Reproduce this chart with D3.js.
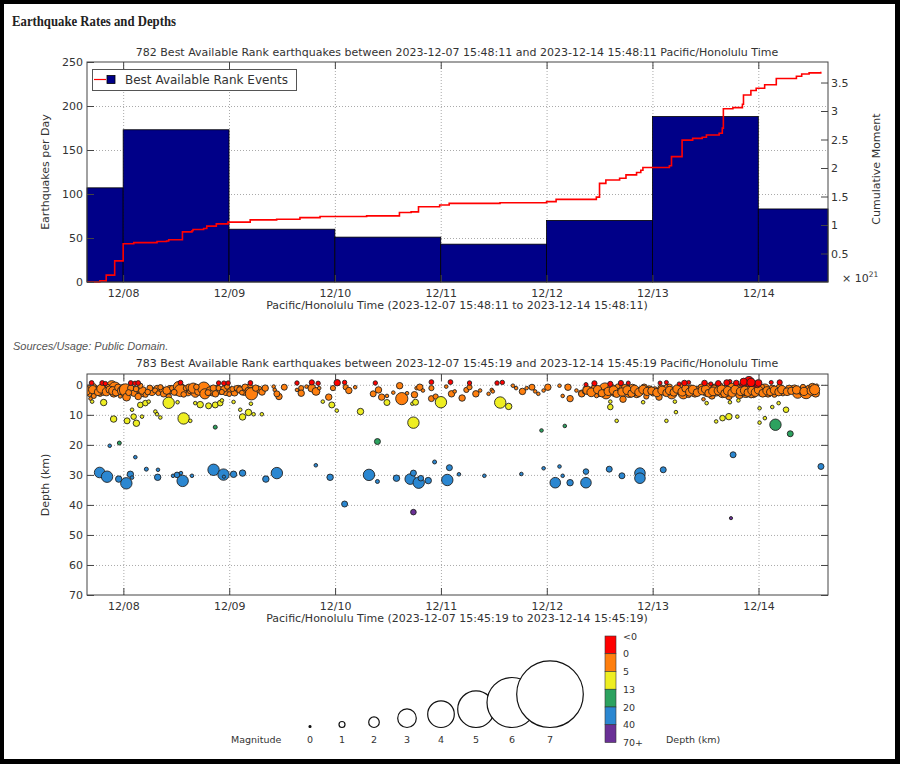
<!DOCTYPE html>
<html>
<head>
<meta charset="utf-8">
<script src="https://cdn.jsdelivr.net/npm/d3@7"></script>
<style>
  body { margin: 0; background: #000; }
  text { font-family: "DejaVu Sans", sans-serif; fill: #333; }
</style>
</head>
<body>
<script>
// ---- data ----

// daily rate bins (top panel)
var rateBinEdges = ["2023-12-07 15:48:11", "2023-12-08 00:00:00", "2023-12-09 00:00:00",
  "2023-12-10 00:00:00", "2023-12-11 00:00:00", "2023-12-12 00:00:00",
  "2023-12-13 00:00:00", "2023-12-14 00:00:00", "2023-12-14 15:48:11"];
var ratePerDay = [107, 173, 60, 51, 43, 70, 188, 83];

// cumulative moment steps: December day (fractional), value x 10^21
var momentDay = [7.659, 7.78, 7.84, 7.92, 8.00, 8.10, 8.32, 8.41, 8.43, 8.56, 8.65, 8.66, 8.76, 8.79,
  8.88, 8.99, 9.20, 9.45, 9.67, 9.86, 10.30, 10.61, 10.72, 10.79, 10.99, 11.08, 11.56, 12.00, 12.09,
  12.47, 12.50, 12.56, 12.69, 12.75, 12.85, 12.89, 12.91, 13.16, 13.18, 13.28, 13.38, 13.47, 13.51,
  13.63, 13.66, 13.67, 13.76, 13.85, 13.86, 13.93, 13.98, 14.06, 14.17, 14.36, 14.41, 14.48, 14.59];
var momentCum = [0, 0.02, 0.12, 0.37, 0.67, 0.69, 0.71, 0.72, 0.74, 0.88, 0.90, 0.92, 0.94, 0.98,
  1.02, 1.05, 1.09, 1.10, 1.13, 1.15, 1.16, 1.22, 1.23, 1.32, 1.35, 1.38, 1.39, 1.41, 1.45,
  1.49, 1.73, 1.79, 1.82, 1.88, 1.92, 1.96, 2.01, 2.04, 2.20, 2.49, 2.52, 2.54, 2.58,
  2.61, 2.70, 3.04, 3.06, 3.12, 3.28, 3.36, 3.40, 3.46, 3.57, 3.61, 3.65, 3.67, 3.69];

// events (bottom panel): [December day, depth km, magnitude]
var quakes = [
  // band 12/07 - 12/09
  [7.64,1.4,1.4],[7.67,1.1,1.1],[7.70,1.9,1.1],[7.74,1.1,0.8],[7.77,1.7,1.4],[7.80,0.8,1.1],[7.83,1.9,1.4],
  [7.86,1.1,1.1],[7.89,0.3,1.9],[7.92,1.1,2.2],[7.91,2.8,1.4],[7.96,1.9,1.1],[7.99,3.0,0.8],[7.72,3.7,0.8],
  [7.78,3.0,0.8],[7.69,4.6,0.4],[7.66,2.5,0.8],[7.75,2.2,1.0],[7.81,2.6,0.9],[7.88,2.0,1.2],[7.94,1.5,1.0],
  [7.85,0.5,0.6],[7.72,0.4,0.7],[7.68,3.2,0.6],[7.97,3.8,0.5],
  [7.65,2.0,1.6],[7.71,1.6,1.5],[7.76,2.4,1.3],[7.79,1.3,1.6],[7.84,2.3,1.5],[7.87,1.6,1.3],[7.90,2.0,1.5],
  [7.93,2.5,1.3],[7.95,0.9,1.2],[7.98,2.0,1.4],[8.00,1.2,1.5],[8.04,2.1,1.4],[8.09,2.0,1.6],[8.13,2.4,1.3],
  [8.15,1.5,1.2],[8.19,2.8,1.3],[8.27,2.2,1.5],[8.32,1.4,1.3],[8.37,1.8,1.2],[8.44,1.6,1.5],[8.50,2.2,1.4],
  [8.55,1.2,1.6],[8.61,2.3,1.5],[8.64,1.8,1.4],[8.68,2.7,1.6],[8.73,1.6,1.8],[8.79,1.9,1.5],[8.84,2.5,1.3],
  [8.88,1.6,1.5],[8.92,2.0,1.3],[8.97,2.2,1.5],[9.02,1.9,1.3],[9.05,2.6,1.2],[9.09,1.4,1.3],[9.14,2.3,1.3],
  [9.19,1.2,1.5],[9.23,2.0,1.4],[9.28,1.6,1.2],[9.31,2.4,1.1],
  [8.02,1.7,2.2],[8.03,4.1,1.4],[8.07,1.1,1.1],[8.10,2.8,1.1],[8.14,3.9,1.1],[8.18,1.9,1.4],[8.16,0.3,0.8],
  [8.21,3.3,0.8],[8.25,1.1,1.0],[8.30,1.9,0.8],[8.35,0.8,0.8],[8.38,3.0,1.1],[8.41,1.9,1.4],[8.43,3.9,0.8],
  [8.46,1.1,0.8],[8.52,0.6,1.9],[8.54,1.9,2.2],[8.59,1.1,0.8],[8.62,0.8,1.1],[8.66,1.1,1.9],[8.71,2.2,1.4],
  [8.76,1.1,2.2],[8.77,3.0,1.9],[8.82,1.9,1.4],[8.85,1.1,1.1],[8.87,3.0,1.1],[8.90,1.1,0.8],[8.95,1.4,1.1],
  [8.98,0.6,0.8],[9.03,1.4,0.8],[9.07,1.1,0.8],[9.10,1.7,1.1],[9.15,0.8,1.1],[9.18,1.9,1.1],[9.21,3.0,2.2],
  [9.25,1.1,1.1],[9.34,1.1,1.1],[9.42,0.6,0.4],[9.43,1.7,0.4],[9.47,3.9,1.1],[9.45,3.0,1.0],[9.52,0.8,1.0],
  [9.64,1.7,0.4],[9.68,1.1,0.8],[9.68,2.8,1.1],[9.73,0.6,0.4],[9.78,1.1,1.4],[9.82,2.2,1.4],[9.85,1.1,0.4],
  [9.94,4.1,1.1],[9.98,1.1,0.8],
  [8.05,2.6,1.0],[8.12,1.4,0.9],[8.23,2.4,0.9],[8.33,2.8,0.7],[8.48,2.5,1.0],[8.57,3.2,0.9],[8.69,0.7,0.9],
  [8.80,2.6,1.0],[8.93,2.4,0.8],[9.00,3.1,0.7],[9.12,2.6,0.7],
  // above sea level
  [7.70,-0.6,0.7],[7.80,-0.6,0.7],[7.83,-0.4,0.6],[8.07,-0.6,0.7],[8.11,-0.5,0.6],[8.14,-0.6,0.7],
  [8.54,-0.7,0.7],[8.90,-0.6,0.6],[8.95,-0.5,0.7],[8.99,-0.6,0.6],[9.20,-0.6,0.7],[9.64,-0.6,0.6],
  [9.78,-0.8,0.8],[9.84,-0.5,0.6],
  // 5-13 km
  [7.705,5.6,0.4],[7.814,5.9,1.1],[7.908,11.4,1.1],[8.035,12.0,1.0],[8.097,10.6,0.9],[8.123,12.8,1.1],
  [8.082,8.3,0.4],[8.176,10.6,0.4],[8.160,6.7,0.9],[8.208,6.1,0.9],[8.239,5.6,0.4],[8.302,8.9,0.4],
  [8.318,9.8,0.4],[8.349,10.9,0.4],[8.428,6.0,2.1],[8.512,5.8,0.4],[8.569,11.2,2.1],[8.632,12.0,0.4],
  [8.679,6.1,0.4],[8.726,6.6,1.1],[8.805,7.0,1.0],[8.868,6.7,1.0],[8.915,6.1,0.9],[8.931,5.2,0.4],
  [9.041,5.7,0.4],[9.104,8.3,0.4],[9.126,10.7,1.1],[9.182,9.2,1.1],[9.230,9.8,0.4],[9.205,6.3,0.4],
  [9.308,9.8,0.4],[9.884,5.6,0.4],[9.969,6.7,1.0],[10.016,8.6,0.4],
  // 13-20 km
  [8.868,14.1,0.5],[7.962,19.4,0.5],[10.40,18.9,1.0],[11.95,15.2,0.4],[12.17,13.7,0.4],[14.16,13.3,2.1],
  [14.30,16.3,1.0],
  // 20-40 km
  [7.871,20.3,0.4],[8.113,24.1,0.4],[7.776,29.2,2.0],[7.846,30.6,2.1],[7.956,31.4,1.1],[8.028,32.8,2.1],
  [8.066,29.8,1.1],[8.082,30.9,0.4],[8.217,28.1,0.5],[8.327,28.3,0.4],[8.324,30.8,1.1],[8.469,30.3,0.4],
  [8.507,30.0,0.9],[8.544,29.4,0.4],[8.560,32.0,2.1],[8.648,30.3,0.4],[8.852,28.3,2.1],[8.946,29.9,2.1],
  [8.95,30.6,0.3],[9.041,29.8,1.1],[9.126,29.4,1.1],[9.346,31.4,1.1],[9.450,29.4,2.1],[9.818,26.8,0.4],
  [9.953,30.8,1.1],
  // band 12/10 - 12/12
  [10.10,0.8,0.8],[10.13,1.9,1.1],[10.19,0.8,0.4],[10.36,3.0,1.0],[10.41,1.7,1.1],[10.44,4.1,1.1],
  [10.49,3.7,0.4],[10.55,2.6,0.4],[10.61,0.3,1.1],[10.63,4.6,2.2],[10.68,2.8,0.4],[10.75,3.3,1.1],
  [10.77,1.1,0.4],[10.80,0.8,1.1],[10.83,1.9,0.4],[10.91,4.6,1.0],[10.91,1.1,0.8],[10.95,3.9,0.8],
  [11.05,0.6,0.4],[11.10,3.0,1.1],[11.13,2.2,0.4],[11.20,4.4,1.1],[11.24,1.7,0.8],[11.27,0.8,0.8],
  [11.33,3.0,1.1],[11.37,1.9,0.4],[11.45,3.0,0.4],[11.48,1.7,0.4],[11.49,2.2,0.4],[11.68,0.3,0.4],
  [11.71,1.1,0.4],[11.77,2.2,1.1],[11.81,1.1,0.4],[11.86,0.8,1.0],[11.89,2.2,0.4],[11.92,3.0,0.4],
  [11.97,1.9,0.4],[12.01,0.8,1.1],[12.12,0.3,0.4],[12.20,0.8,1.1],[12.15,3.7,0.4],[12.22,4.6,1.1],
  [12.28,1.9,0.4],[12.33,2.8,1.1],[12.36,1.1,0.4],
  [10.02,-0.7,1.1],[10.09,-0.8,0.6],[10.38,-0.6,0.6],[10.91,-0.9,0.7],[11.09,-0.9,0.7],[11.27,-0.6,0.6],
  [11.53,-0.6,0.6],[11.58,-0.8,0.6],
  [10.24,8.9,1.1],[10.49,5.9,1.0],[10.73,6.3,0.4],[10.76,5.8,1.0],[10.74,12.6,2.1],[11.00,5.8,2.1],
  [11.56,5.9,2.1],[11.64,7.2,1.1],
  [10.32,30.0,2.1],[10.40,32.2,0.5],[10.09,39.7,1.0],[10.58,31.1,1.1],[10.71,31.4,2.0],[10.74,29.4,1.0],
  [10.79,32.6,2.1],[10.81,31.1,0.9],[10.88,31.9,1.1],[10.94,25.7,0.5],[11.08,27.6,1.0],[11.06,31.7,2.1],
  [11.17,29.8,0.4],[11.41,30.3,0.4],[11.76,29.7,0.4],[11.97,27.8,0.4],[12.12,27.2,0.4],[12.15,30.3,0.4],
  [12.08,32.6,2.0],[12.22,32.6,1.1],[12.37,32.6,2.0],[12.37,28.9,0.9],
  // 40+ km
  [10.74,42.4,0.9],[13.74,44.4,0.3],
  // band 12/12 - 12/14
  [12.33,3.0,1.1],[12.36,2.2,0.8],[12.40,1.7,1.1],[12.45,1.1,1.1],[12.50,2.2,1.9],[12.55,1.4,2.2],
  [12.56,3.0,1.9],[12.61,1.1,1.4],[12.64,2.6,1.4],[12.69,1.7,1.9],[12.72,4.8,1.1],[12.74,1.1,1.4],
  [12.78,2.2,2.2],[12.81,1.1,1.4],[12.85,3.0,1.4],[12.89,1.9,1.4],[12.92,0.8,1.1],[12.94,3.9,0.8],
  [12.97,1.4,1.1],[13.02,1.7,1.1],[13.06,4.1,1.1],[13.08,1.1,1.1],[13.11,2.2,1.4],[13.14,1.1,1.4],
  [13.18,3.0,1.9],[13.21,1.7,1.1],[13.25,1.9,1.4],[13.27,0.8,1.4],[13.29,3.0,1.9],[13.32,1.9,1.4],
  [13.36,1.1,1.1],[13.40,2.8,1.4],[13.43,1.7,1.4],[13.46,0.8,1.1],[13.48,4.8,0.4],[13.51,2.6,1.4],
  [13.54,1.1,1.9],[13.56,3.7,1.1],[13.60,1.7,2.2],[13.63,0.6,1.4],[13.66,2.6,1.9],[13.69,1.4,1.4],
  [13.72,3.9,1.1],[13.74,1.1,1.9],[13.77,2.2,1.4],[13.80,1.4,1.9],[13.82,3.3,1.4],[13.85,0.8,1.4],
  [13.88,2.2,2.2],[13.91,1.4,1.4],[13.95,3.0,1.4],[13.98,1.1,1.4],[14.01,2.2,1.4],[14.06,1.4,1.9],
  [14.09,2.8,1.4],[14.13,1.4,1.4],[14.17,2.6,1.1],[14.20,1.1,1.4],[14.25,1.9,1.1],[14.29,1.4,1.4],
  [14.34,1.1,1.1],[14.37,2.8,1.9],[14.40,1.9,1.4],[14.45,2.6,2.2],[14.48,1.4,1.4],[14.51,0.8,1.4],
  [14.54,2.8,1.4],[14.55,0.3,0.4],
  [12.47,3.6,0.6],[12.67,0.5,0.7],[12.83,2.7,0.8],[13.00,2.9,0.7],[13.16,0.6,0.8],[13.34,3.4,0.8],
  [13.45,2.2,0.9],[13.58,0.9,0.8],[13.70,3.0,0.9],[13.86,2.7,0.9],[13.93,3.5,0.8],[14.03,0.7,0.9],
  [14.15,3.3,0.8],[14.23,2.9,0.7],[14.42,0.7,0.8],
  [12.38,1.8,1.5],[12.42,2.5,1.6],[12.48,1.6,1.5],[12.52,2.8,1.3],[12.58,2.2,1.5],[12.63,1.8,1.6],
  [12.66,3.0,1.3],[12.71,2.4,1.5],[12.76,1.8,1.6],[12.80,2.9,1.3],[12.83,1.5,1.5],[12.87,2.5,1.5],
  [12.91,1.6,1.6],[12.95,2.2,1.5],[12.99,2.0,1.4],[13.04,2.6,1.5],[13.09,1.9,1.6],[13.13,2.7,1.3],
  [13.16,1.9,1.5],[13.20,2.5,1.4],[13.23,1.4,1.5],[13.28,2.3,1.6],[13.31,1.2,1.3],[13.35,2.4,1.5],
  [13.38,1.6,1.6],[13.42,2.6,1.4],[13.47,1.9,1.6],[13.50,1.5,1.5],[13.53,2.8,1.4],[13.57,2.2,1.6],
  [13.62,2.0,1.5],[13.65,1.5,1.6],[13.68,2.9,1.4],[13.71,2.0,1.6],[13.75,2.7,1.5],[13.78,1.6,1.6],
  [13.83,2.2,1.5],[13.87,1.9,1.6],[13.90,2.6,1.4],[13.94,1.9,1.6],[13.97,2.5,1.5],[14.00,1.7,1.5],
  [14.04,2.8,1.4],[14.08,2.0,1.5],[14.11,2.4,1.3],[14.15,1.8,1.5],[14.19,2.4,1.4],[14.22,1.6,1.5],
  [14.27,2.3,1.4],[14.31,2.0,1.3],[14.36,1.7,1.5],[14.43,2.2,1.5],[14.50,2.0,1.6],[14.53,1.6,1.9],
  [12.37,-0.1,0.5],[12.60,-0.3,0.8],[12.77,-0.6,0.5],[13.07,-0.6,0.5],[13.13,-0.8,0.5],[13.25,-0.3,0.5],
  [13.34,-0.8,0.5],[13.49,-0.6,0.9],[13.55,-0.3,0.5],[13.73,-1.1,0.5],[13.79,-0.6,0.9],[13.84,-0.1,0.5],
  [13.91,-1.1,1.9],[13.96,-0.3,1.1],[13.99,-0.1,1.1],[14.12,-0.8,0.5],[14.20,-0.8,0.8],
  [13.86,-1.0,1.3],[13.93,-0.8,1.5],[14.00,-0.6,1.2],[13.70,-0.7,1.0],[13.62,-0.5,0.9],[13.30,-0.6,0.9],
  [12.70,-0.6,0.8],[12.45,-0.5,0.8],
  [12.60,5.6,0.4],[12.60,7.4,0.9],[12.66,12.0,0.4],[12.91,5.8,0.4],[13.21,5.6,0.4],[13.22,9.1,0.4],
  [13.13,12.0,0.4],[13.51,6.1,0.4],[13.60,12.2,0.4],[13.66,11.1,0.9],[13.72,10.6,1.1],[13.80,10.6,0.4],
  [13.73,5.8,0.4],[13.81,5.2,0.4],[14.01,7.8,0.4],[14.01,12.6,0.4],[14.06,11.1,0.4],[14.13,7.4,0.4],
  [14.19,6.1,0.4],[14.26,8.3,0.9],
  [12.59,28.1,1.0],[12.71,30.3,1.0],[12.88,29.4,2.0],[12.88,31.1,2.0],[13.10,28.3,1.0],[13.76,23.3,1.0],
  [14.59,27.2,1.0]
];

// legends
var legendMags = [0, 1, 2, 3, 4, 5, 6, 7];
var depthBreaks = [0, 5, 13, 20, 40];
var depthLabels = ["<0", "0", "5", "13", "20", "40", "70+"];
var depthColors = ["#ff0000", "#ff7f0e", "#eeee22", "#2ca25f", "#2b87d1", "#6a3096"];

// ---- helpers ----
var parseTime = d3.timeParse("%Y-%m-%d %H:%M:%S");
var dec1 = new Date(2023, 11, 1);
function dayToDate(d) { return new Date(dec1.getTime() + (d - 1) * 864e5); }
var dayTicks = d3.timeDay.range(new Date(2023, 11, 8), new Date(2023, 11, 15));
var fmtDay = d3.timeFormat("%m/%d");
var fs = "11px";

var svg = d3.select("body").append("svg").attr("width", 900).attr("height", 764);
svg.append("rect").attr("width", 900).attr("height", 764).attr("fill", "#000");
svg.append("rect").attr("x", 4).attr("y", 4).attr("width", 891).attr("height", 755).attr("fill", "#fff");

svg.append("text").attr("x", 12).attr("y", 26)
  .attr("textLength", 164).attr("lengthAdjust", "spacingAndGlyphs")
  .style("font-family", "'Liberation Serif', serif").style("font-weight", "bold")
  .style("font-size", "14.5px").style("fill", "#222")
  .text("Earthquake Rates and Depths");

var left = 87, right = 828;

// dotted grid for one panel
function panelGrid(g, x, y, top, bottom, yTicks) {
  g.append("g").attr("transform", `translate(0,${bottom})`)
    .call(d3.axisBottom(x).tickValues(dayTicks).tickSize(-(bottom - top)).tickFormat(""))
    .call(a => a.select(".domain").remove())
    .selectAll("line").attr("stroke", "#aaa").attr("stroke-dasharray", "1,2");
  g.append("g").attr("transform", `translate(${left},0)`)
    .call(d3.axisLeft(y).tickValues(yTicks).tickSize(-(right - left)).tickFormat(""))
    .call(a => a.select(".domain").remove())
    .selectAll("line").attr("stroke", "#aaa").attr("stroke-dasharray", "1,2");
}

// inward ticks on all sides plus the border
function panelAxes(g, x, y, top, bottom, yTicks, withRightTicks) {
  var ax = g.append("g").attr("transform", `translate(0,${bottom})`)
    .call(d3.axisBottom(x).tickValues(dayTicks).tickSize(-7).tickPadding(7).tickFormat(fmtDay));
  var at = g.append("g").attr("transform", `translate(0,${top})`)
    .call(d3.axisTop(x).tickValues(dayTicks).tickSize(-7).tickFormat(""));
  var ay = g.append("g").attr("transform", `translate(${left},0)`)
    .call(d3.axisLeft(y).tickValues(yTicks).tickSize(-7).tickPadding(4).tickFormat(d3.format("d")));
  [ax, at, ay].forEach(a => {
    a.select(".domain").remove();
    a.selectAll("line").attr("stroke", "#444");
    a.selectAll("text").style("font-size", fs).style("fill", "#333")
      .style("font-family", "'DejaVu Sans', sans-serif");
  });
  if (withRightTicks) {
    var ar = g.append("g").attr("transform", `translate(${right},0)`)
      .call(d3.axisRight(y).tickValues(yTicks).tickSize(-7).tickFormat(""));
    ar.select(".domain").remove();
    ar.selectAll("line").attr("stroke", "#444");
  }
  g.append("rect").attr("x", left).attr("y", top).attr("width", right - left)
    .attr("height", bottom - top).attr("fill", "none").attr("stroke", "#444");
}

// ---- top panel: rates and cumulative moment ----
var top1 = 62, bot1 = 282;
var x1 = d3.scaleTime().domain([parseTime(rateBinEdges[0]), parseTime(rateBinEdges[8])]).range([left, right]);
var yRate = d3.scaleLinear().domain([0, 250]).range([bot1, top1]);
var yMom = d3.scaleLinear().domain([0, 3.86]).range([bot1, top1]);

var g1 = svg.append("g");
panelGrid(g1, x1, yRate, top1, bot1, [50, 100, 150, 200]);

var bins = ratePerDay.map((c, i) => ({ t0: parseTime(rateBinEdges[i]), t1: parseTime(rateBinEdges[i + 1]), c: c }));
g1.append("g").selectAll("rect").data(bins).enter().append("rect")
  .attr("x", d => x1(d.t0)).attr("width", d => x1(d.t1) - x1(d.t0))
  .attr("y", d => yRate(d.c)).attr("height", d => bot1 - yRate(d.c))
  .attr("fill", "#000088").attr("stroke", "#000").attr("stroke-width", 0.8);

var momentPts = momentDay.map((d, i) => [dayToDate(d), momentCum[i]]);
g1.append("path").datum(momentPts)
  .attr("d", d3.line().curve(d3.curveStepAfter).x(d => x1(d[0])).y(d => yMom(d[1])))
  .attr("fill", "none").attr("stroke", "#ff0000").attr("stroke-width", 1.6);

panelAxes(g1, x1, yRate, top1, bot1, [0, 50, 100, 150, 200, 250], false);

var ar1 = g1.append("g").attr("transform", `translate(${right},0)`)
  .call(d3.axisRight(yMom).tickValues([0.5, 1, 1.5, 2, 2.5, 3, 3.5]).tickSize(-7).tickPadding(3)
    .tickFormat(d3.format("")));
ar1.select(".domain").remove();
ar1.selectAll("line").attr("stroke", "#444");
ar1.selectAll("text").style("font-size", fs).style("fill", "#333");

var expo = g1.append("text").attr("x", 842).attr("y", 282).style("font-size", fs);
expo.append("tspan").text("\u00d7 10");
expo.append("tspan").attr("dy", -5).style("font-size", "7.5px").text("21");

g1.append("text").attr("x", 457).attr("y", 56).attr("text-anchor", "middle").style("font-size", fs)
  .text("782 Best Available Rank earthquakes between 2023-12-07 15:48:11 and 2023-12-14 15:48:11 Pacific/Honolulu Time");
g1.append("text").attr("x", 457).attr("y", 309).attr("text-anchor", "middle").style("font-size", fs)
  .text("Pacific/Honolulu Time (2023-12-07 15:48:11 to 2023-12-14 15:48:11)");
g1.append("text").attr("transform", "translate(49,172) rotate(-90)").attr("text-anchor", "middle")
  .style("font-size", fs).text("Earthquakes per Day");
g1.append("text").attr("transform", "translate(880,169) rotate(-90)").attr("text-anchor", "middle")
  .style("font-size", fs).text("Cumulative Moment");

// legend
var lg = g1.append("g");
lg.append("rect").attr("x", 92.5).attr("y", 69.5).attr("width", 204).attr("height", 21)
  .attr("fill", "#fff").attr("stroke", "#555");
lg.append("line").attr("x1", 94).attr("x2", 106).attr("y1", 79.5).attr("y2", 79.5)
  .attr("stroke", "#ff0000").attr("stroke-width", 1.2);
lg.append("rect").attr("x", 107).attr("y", 75.5).attr("width", 8).attr("height", 8)
  .attr("fill", "#000088").attr("stroke", "#000").attr("stroke-width", 0.8);
lg.append("text").attr("x", 125).attr("y", 84).style("font-size", "12px").text("Best Available Rank Events");

svg.append("text").attr("x", 13).attr("y", 350)
  .style("font-family", "'Liberation Sans', sans-serif").style("font-style", "italic")
  .style("font-size", "11px").style("fill", "#555").text("Sources/Usage: Public Domain.");

// ---- bottom panel: depth vs time ----
var top2 = 374, bot2 = 595;
var x2 = d3.scaleTime().domain([new Date(2023, 11, 7, 15, 45, 19), new Date(2023, 11, 14, 15, 45, 19)])
  .range([left, right]);
var yDepth = d3.scaleLinear().domain([-3.6, 70]).range([top2, bot2]);
var rMag = d3.scaleLinear().domain(legendMags).range([1, 3, 5.3, 9.3, 13.3, 18.3, 25, 33.3]);
var depthColor = d3.scaleThreshold().domain(depthBreaks).range(depthColors);

var g2 = svg.append("g");
panelGrid(g2, x2, yDepth, top2, bot2, [0, 10, 20, 30, 40, 50, 60]);

svg.append("clipPath").attr("id", "clip2").append("rect")
  .attr("x", left).attr("y", top2).attr("width", right - left).attr("height", bot2 - top2);

g2.append("g").attr("clip-path", "url(#clip2)").selectAll("circle").data(quakes).enter().append("circle")
  .attr("cx", d => x2(dayToDate(d[0]))).attr("cy", d => yDepth(d[1])).attr("r", d => rMag(d[2]))
  .attr("fill", d => depthColor(d[1])).attr("stroke", "#222").attr("stroke-width", 0.9);

panelAxes(g2, x2, yDepth, top2, bot2, [0, 10, 20, 30, 40, 50, 60, 70], true);

g2.append("text").attr("x", 457).attr("y", 367).attr("text-anchor", "middle").style("font-size", fs)
  .text("783 Best Available Rank earthquakes between 2023-12-07 15:45:19 and 2023-12-14 15:45:19 Pacific/Honolulu Time");
g2.append("text").attr("x", 457).attr("y", 622).attr("text-anchor", "middle").style("font-size", fs)
  .text("Pacific/Honolulu Time (2023-12-07 15:45:19 to 2023-12-14 15:45:19)");
g2.append("text").attr("transform", "translate(49,485) rotate(-90)").attr("text-anchor", "middle")
  .style("font-size", fs).text("Depth (km)");

// ---- magnitude and depth legends ----
var magX = [310, 342, 374, 407, 441, 476, 512, 550];
var legBase = 727.5;
var ml = svg.append("g");
ml.selectAll("circle").data(legendMags).enter().append("circle")
  .attr("cx", (d, i) => magX[i]).attr("cy", d => legBase - rMag(d)).attr("r", d => rMag(d))
  .attr("fill", d => d === 0 ? "#000" : "#fff").attr("stroke", "#111").attr("stroke-width", 1.2);
ml.selectAll("text.m").data(legendMags).enter().append("text").attr("class", "m")
  .attr("x", (d, i) => magX[i]).attr("y", 743).attr("text-anchor", "middle")
  .style("font-size", "9.5px").text(d => d);
ml.append("text").attr("x", 231).attr("y", 743).style("font-size", "9.5px").text("Magnitude");

var cbTop = 636, cbBot = 742.5, cbX = 605, cbW = 11;
var segH = (cbBot - cbTop) / depthColors.length;
ml.selectAll("rect").data(depthColors).enter().append("rect")
  .attr("x", cbX).attr("y", (d, i) => cbTop + i * segH).attr("width", cbW).attr("height", segH)
  .attr("fill", d => d).attr("stroke", "#333").attr("stroke-width", 0.6);
ml.selectAll("text.d").data(depthLabels).enter().append("text").attr("class", "d")
  .attr("x", 623).attr("y", (d, i) => cbTop + i * segH + 3.5)
  .style("font-size", "9.5px").text(d => d);
ml.append("text").attr("x", 666).attr("y", 743).style("font-size", "9.5px").text("Depth (km)");
</script>
</body>
</html>
